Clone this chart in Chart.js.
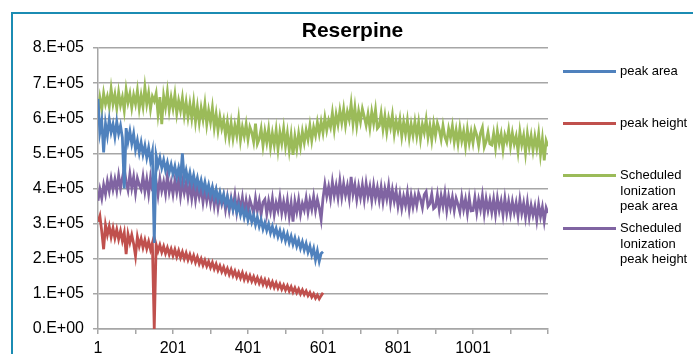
<!DOCTYPE html>
<html lang="en">
<head>
<meta charset="UTF-8">
<title>Reserpine</title>
<script src="https://cdn.jsdelivr.net/npm/chart.js"></script>
<style>
  body { margin: 0; width: 693px; height: 354px; overflow: hidden; background: #fff; position: relative;
         font-family: "Liberation Sans", Arial, sans-serif; }
  #frame { position: absolute; left: 11px; top: 12px; width: 700px; height: 360px;
           border-left: 2px solid #1b8cb3; border-top: 2px solid #1b8cb3; }
  #chart { position: absolute; left: 0; top: 0; }
  #title { position: absolute; left: 12px; width: 681px; top: 18px; text-align: center;
           font-weight: bold; font-size: 21px; color: #000; }
  .leg-line { position: absolute; left: 563px; width: 53px; height: 3px; }
  .leg-text { position: absolute; left: 620px; font-size: 13px; line-height: 15.5px; color: #000; }
</style>
</head>
<body>
<div id="frame"></div>
<canvas id="chart" width="693" height="354"></canvas>
<div id="title">Reserpine</div>
<div id="legend"></div>
<script>
// values in thousands, one value every 5 samples
const step = 5;

const peakArea = [
  655, 560, 592, 503, 585, 551, 596, 560, 583, 548,
  590, 556, 579, 545, 400, 572, 534, 563, 528, 556,
  511, 537, 502, 531, 497, 522, 488, 516, 479, 505,
  245, 494, 466, 488, 459, 481, 452, 474, 446, 468,
  441, 463, 433, 458, 429, 500, 426, 451, 421, 445,
  414, 438, 408, 430, 401, 423, 395, 418, 389, 410,
  382, 404, 375, 397, 368, 389, 362, 383, 355, 376,
  346, 368, 340, 361, 333, 352, 325, 346, 318, 338,
  310, 331, 305, 324, 297, 318, 292, 311, 285, 303,
  281, 299, 274, 292, 269, 286, 263, 280, 257, 275,
  251, 270, 246, 264, 241, 259, 236, 253, 230, 248,
  225, 243, 219, 236, 211, 229, 197, 222, 193, 215,
  220
];

const peakHeight = [
  305, 322, 278, 227, 296, 268, 292, 262, 287, 259,
  283, 256, 279, 251, 274, 213, 270, 246, 268, 243,
  208, 262, 236, 257, 232, 253, 229, 249, 226, 245,
  0, 241, 222, 239, 219, 235, 215, 231, 212, 228,
  209, 226, 206, 223, 203, 219, 200, 216, 197, 212,
  194, 209, 190, 205, 186, 200, 182, 196, 179, 192,
  175, 189, 171, 185, 167, 180, 163, 176, 159, 172,
  155, 169, 152, 165, 148, 161, 145, 160, 141, 155,
  139, 152, 136, 149, 133, 146, 130, 143, 127, 140,
  124, 137, 121, 134, 118, 131, 116, 128, 113, 125,
  111, 123, 108, 120, 105, 117, 103, 114, 100, 111,
  98, 108, 95, 104, 91, 100, 88, 97, 86, 95,
  103
];

const schedArea = [
  612, 658, 625, 671, 640, 662, 633, 684, 641, 668,
  628, 674, 637, 660, 622, 681, 645, 670, 630, 666,
  641, 679, 628, 665, 633, 688, 640, 672, 626, 662,
  649, 671, 612, 660, 583, 664, 631, 675, 622, 659,
  628, 667, 614, 650, 622, 658, 609, 646, 603, 641,
  600, 645, 591, 633, 588, 629, 597, 640, 583, 622,
  589, 630, 574, 612, 566, 604, 571, 595, 552, 590,
  546, 586, 543, 580, 551, 597, 538, 575, 549, 583,
  540, 575, 560, 533, 585, 527, 541, 570, 522, 563,
  531, 569, 518, 557, 524, 566, 512, 560, 529, 571,
  521, 558, 509, 552, 496, 548, 513, 556, 520, 562,
  531, 566, 540, 579, 537, 574, 551, 588, 556, 590,
  559, 601, 566, 594, 575, 615, 568, 611, 582, 622,
  588, 626, 581, 618, 596, 641, 585, 630, 579, 620,
  590, 627, 605, 580, 612, 573, 618, 586, 624, 571,
  578, 614, 569, 606, 561, 600, 574, 609, 556, 592,
  566, 597, 549, 589, 556, 594, 545, 583, 552, 590,
  550, 588, 541, 582, 559, 596, 546, 579, 538, 584,
  551, 586, 568, 540, 579, 547, 532, 570, 545, 578,
  533, 566, 528, 572, 536, 563, 521, 568, 530, 561,
  530, 569, 552, 522, 558, 574, 518, 534, 560, 527,
  524, 557, 516, 563, 529, 555, 511, 552, 533, 566,
  521, 558, 527, 549, 506, 562, 525, 551, 502, 556,
  518, 550, 509, 548, 515, 556, 497, 541, 480, 536,
  520
];

const schedHeight = [
  365, 398, 372, 410, 384, 421, 393, 428, 398, 426,
  395, 437, 401, 430, 457, 420, 396, 441, 402, 433,
  388, 429, 410, 397, 434, 392, 426, 385, 431, 396,
  388, 421, 382, 428, 394, 419, 386, 437, 391, 418,
  384, 423, 390, 426, 379, 420, 388, 417, 377, 414,
  372, 411, 368, 405, 376, 402, 361, 398, 365, 396,
  359, 394, 352, 387, 345, 381, 356, 379, 340, 375,
  338, 372, 343, 380, 333, 369, 340, 374, 330, 366,
  334, 368, 350, 329, 372, 337, 365, 326, 361, 369,
  328, 364, 335, 371, 326, 359, 338, 375, 331, 362,
  330, 366, 321, 358, 306, 363, 334, 368, 327, 357,
  339, 372, 333, 366, 341, 377, 338, 369, 345, 312,
  372, 412, 378, 405, 371, 418, 380, 409, 374, 421,
  376, 414, 381, 408, 372, 433, 384, 411, 369, 406,
  375, 410, 369, 414, 378, 405, 366, 409, 373, 402,
  367, 404, 362, 399, 371, 408, 359, 396, 364, 393,
  350, 383, 344, 377, 352, 388, 341, 380, 348, 378,
  351, 386, 370, 346, 382, 391, 349, 357, 384, 343,
  348, 382, 341, 379, 350, 386, 338, 377, 346, 375,
  338, 372, 355, 333, 376, 341, 369, 330, 373, 336,
  337, 374, 332, 368, 341, 379, 329, 370, 338, 366,
  333, 369, 327, 372, 338, 364, 325, 371, 330, 363,
  328, 363, 332, 359, 322, 368, 330, 358, 319, 361,
  318, 352, 324, 349, 310, 354, 320, 347, 307, 345,
  330
];

const seriesNames = ['peak area', 'peak height', 'Scheduled Ionization peak area', 'Scheduled Ionization peak height'];
const seriesColors = ['#4f81bd', '#c0504d', '#9bbb59', '#8064a2'];
const xTicks = [1, 101, 201, 301, 401, 501, 601, 701, 801, 901, 1001, 1101, 1201];
const xLabels = ['1', '201', '401', '601', '801', '1001'];
const yLabels = ['0.E+00', '1.E+05', '2.E+05', '3.E+05', '4.E+05', '5.E+05', '6.E+05', '7.E+05', '8.E+05'];

const toPoints = arr => arr.map((v, i) => ({ x: 1 + i * step, y: v * 1000 }));
const allSeries = [peakArea, peakHeight, schedArea, schedHeight];

const gridGray = '#a6a6a6';
const tickFont = { family: '"Liberation Sans", Arial, sans-serif', size: 16 };

new Chart(document.getElementById('chart'), {
  type: 'line',
  data: {
    datasets: allSeries.map((arr, i) => ({
      label: seriesNames[i],
      data: toPoints(arr),
      borderColor: seriesColors[i],
      backgroundColor: seriesColors[i],
      borderWidth: 2.8,
      pointRadius: 0,
      tension: 0,
      fill: false
    }))
  },
  options: {
    responsive: false,
    animation: false,
    events: [],
    layout: { padding: { left: 0, top: 48, right: 145, bottom: 0 } },
    plugins: { legend: { display: false }, title: { display: false }, tooltip: { enabled: false } },
    scales: {
      x: {
        type: 'linear',
        min: 1,
        max: 1201,
        afterBuildTicks: s => { s.ticks = xTicks.map(v => ({ value: v })); },
        afterFit: s => { s.height = 25; },
        grid: { drawOnChartArea: false, drawTicks: true, tickLength: 5, color: gridGray, lineWidth: 1.5 },
        border: { display: true, color: gridGray, width: 1.5 },
        ticks: {
          autoSkip: false,
          maxRotation: 0,
          padding: 5,
          color: '#000',
          font: tickFont,
          callback: v => xLabels.includes(String(v)) ? String(v) : ''
        }
      },
      y: {
        min: 0,
        max: 800000,
        afterFit: s => { s.width = 98; },
        grid: { drawTicks: true, tickLength: 5, color: gridGray, lineWidth: 1.5 },
        border: { display: true, color: gridGray, width: 1.5 },
        ticks: {
          stepSize: 100000,
          padding: 9,
          color: '#000',
          font: tickFont,
          callback: (v, i) => yLabels[i]
        }
      }
    }
  }
});

// legend, drawn as html next to the plot
const legendRows = [
  { lines: ['peak area'], y: 71 },
  { lines: ['peak height'], y: 123 },
  { lines: ['Scheduled', 'Ionization', 'peak area'], y: 175 },
  { lines: ['Scheduled', 'Ionization', 'peak height'], y: 228 }
];
const legend = document.getElementById('legend');
legendRows.forEach((row, i) => {
  const line = document.createElement('div');
  line.className = 'leg-line';
  line.style.top = (row.y - 1.5) + 'px';
  line.style.background = seriesColors[i];
  legend.appendChild(line);
  const txt = document.createElement('div');
  txt.className = 'leg-text';
  txt.style.top = (row.y - 7.75) + 'px';
  txt.innerHTML = row.lines.join('<br>');
  legend.appendChild(txt);
});
</script>
</body>
</html>
